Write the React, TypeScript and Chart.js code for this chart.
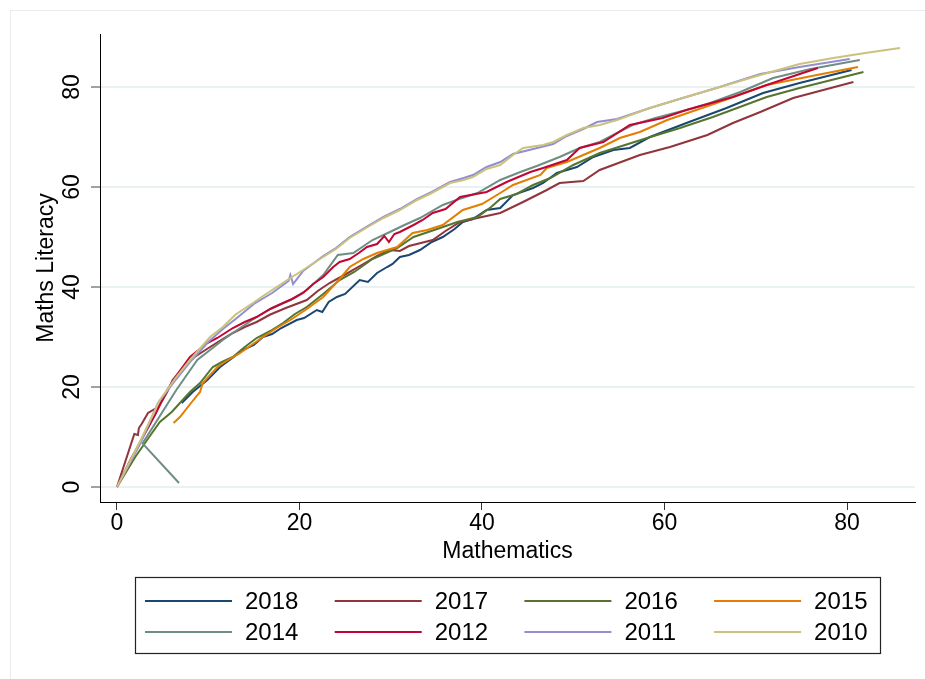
import React, { useEffect, useRef } from "react";
import { Chart, registerables } from "chart.js";

Chart.register(...registerables);

const FONT = '"Liberation Sans", Arial, Helvetica, sans-serif';

const SERIES_LABELS = ["2018", "2017", "2016", "2015", "2014", "2012", "2011", "2010"];
const SERIES_COLORS = ["#1a476f", "#90353b", "#55752f", "#e37e00", "#6e8e84", "#c10534", "#938dd2", "#cac27e"];
const X_TICKS = [0, 20, 40, 60, 80];
const Y_TICKS = [0, 20, 40, 60, 80];

const math2018 = [7.1, 8.3, 9.9, 11.3, 12.5, 13.8, 15.0, 16.0, 17.0, 18.0, 19.7, 20.5, 21.9, 22.5, 23.2, 24.1, 25.0, 26.6, 27.5, 28.5, 29.6, 30.2, 31.0, 32.0, 33.2, 34.5, 35.7, 37.0, 37.9, 39.0, 40.5, 42.0, 43.4, 45.6, 46.7, 48.2, 50.4, 52.2, 54.4, 56.2, 58.4, 62.4, 66.8, 70.8, 74.8, 80.5];
const lit2018 = [16.8, 19.0, 21.4, 24.0, 25.6, 27.4, 28.4, 30.0, 30.6, 31.8, 33.4, 33.8, 35.4, 35.0, 37.0, 38.0, 38.6, 41.4, 41.0, 42.8, 44.0, 44.6, 46.0, 46.4, 47.4, 49.0, 50.0, 51.6, 53.0, 53.6, 55.4, 55.8, 58.4, 59.8, 60.8, 62.8, 64.0, 66.0, 67.4, 67.8, 70.0, 72.8, 75.8, 78.8, 80.8, 83.4];

const math2017 = [0, 1.9, 2.3, 2.4, 2.7, 3.4, 4.5, 5.0, 5.5, 6.1, 7.5, 8.5, 10.2, 11.5, 12.7, 14.0, 15.3, 16.8, 18.5, 20.8, 22.0, 23.3, 25.0, 27.0, 28.5, 29.9, 31.0, 32.0, 34.6, 36.0, 37.6, 39.5, 42.0, 44.5, 47.1, 48.5, 51.1, 52.9, 57.3, 60.6, 64.7, 67.5, 70.5, 74.1, 80.7];
const lit2017 = [0, 10.6, 10.4, 11.8, 12.6, 14.8, 16.0, 17.4, 19.0, 21.4, 24.5, 26.0, 28.0, 29.5, 30.8, 32.0, 33.0, 34.5, 35.8, 37.4, 39.2, 40.8, 42.5, 44.6, 46.2, 47.4, 47.2, 48.2, 49.4, 51.2, 53.0, 53.8, 54.8, 57.0, 59.4, 60.8, 61.2, 63.4, 66.4, 68.0, 70.4, 72.8, 75.0, 77.8, 81.0];

const math2016 = [0, 2.0, 3.8, 4.7, 6.0, 6.7, 7.5, 8.0, 9.1, 10.5, 11.5, 12.7, 14.0, 15.3, 16.8, 18.2, 19.5, 20.8, 22.6, 24.4, 26.0, 28.0, 30.7, 32.5, 35.4, 37.3, 39.5, 41.0, 42.0, 43.8, 45.6, 47.5, 50.0, 52.9, 58.1, 61.7, 65.3, 71.2, 74.8, 81.8];
const lit2016 = [0, 6.0, 10.7, 13.0, 15.0, 16.4, 18.0, 19.0, 20.8, 24.0, 25.0, 26.0, 28.0, 29.8, 31.2, 32.8, 34.6, 36.0, 38.6, 41.4, 43.0, 45.6, 47.8, 50.0, 51.8, 53.0, 54.0, 56.0, 57.6, 58.6, 60.4, 61.8, 64.4, 66.8, 69.8, 71.8, 74.0, 78.0, 79.8, 83.0];

const math2015 = [6.2, 6.9, 8.2, 9.1, 9.4, 11.0, 12.0, 13.5, 16.0, 17.5, 19.0, 20.8, 22.6, 24.4, 25.5, 27.0, 28.5, 30.7, 32.4, 34.0, 35.7, 37.9, 40.0, 42.0, 43.4, 46.4, 47.1, 49.3, 52.9, 55.1, 57.3, 60.3, 65.7, 71.2, 76.7, 81.2];
const lit2015 = [12.8, 14.0, 17.0, 19.0, 20.8, 24.0, 25.2, 26.8, 30.0, 31.8, 33.4, 35.6, 38.0, 41.6, 44.0, 45.6, 46.8, 48.0, 50.8, 51.4, 52.4, 55.4, 56.6, 58.8, 60.4, 62.4, 63.8, 65.0, 67.8, 69.8, 71.0, 73.4, 76.8, 80.4, 82.4, 84.0];

const math2014 = [6.8, 2.8, 6.5, 8.8, 11.6, 13.5, 15.3, 17.0, 19.0, 20.8, 22.6, 24.2, 25.9, 28.0, 29.9, 31.5, 33.2, 35.7, 37.5, 39.5, 42.0, 44.2, 46.0, 48.5, 50.7, 52.9, 56.5, 59.0, 62.4, 65.0, 68.3, 71.9, 76.0, 81.4];
const lit2014 = [0.8, 8.7, 19.4, 25.4, 29.4, 31.8, 34.0, 35.8, 37.4, 39.4, 42.4, 46.4, 46.8, 49.4, 51.0, 52.4, 53.8, 56.4, 57.6, 58.8, 61.4, 63.0, 64.2, 66.0, 67.8, 69.0, 72.4, 73.8, 75.4, 76.8, 79.0, 81.8, 83.6, 85.4];

const math2012 = [0, 1.5, 3.0, 4.2, 5.5, 6.8, 8.0, 9.9, 11.0, 12.7, 14.0, 15.3, 16.8, 18.2, 19.2, 20.4, 21.5, 22.6, 23.7, 24.4, 25.5, 26.5, 27.4, 28.5, 29.3, 29.8, 30.4, 31.0, 32.5, 33.5, 34.6, 36.0, 37.6, 40.5, 42.7, 45.3, 46.7, 49.3, 50.7, 53.3, 56.2, 59.8, 62.4, 67.5, 71.2, 76.8];
const lit2012 = [0, 5.5, 10.5, 14.5, 19.4, 23.0, 26.0, 28.8, 29.8, 31.8, 33.0, 34.0, 35.6, 36.8, 37.6, 38.8, 40.6, 42.0, 44.0, 45.0, 45.6, 46.8, 48.0, 48.6, 50.2, 49.0, 50.6, 51.0, 52.4, 53.4, 54.8, 55.6, 58.0, 59.0, 61.0, 63.0, 63.8, 65.4, 67.8, 69.0, 72.4, 73.8, 75.4, 78.0, 80.4, 83.8];

const math2011 = [0, 2.5, 4.5, 6.5, 8.0, 10.0, 11.6, 13.0, 15.0, 17.0, 18.8, 19.0, 19.3, 20.4, 22.6, 24.0, 25.5, 27.3, 29.2, 31.0, 32.9, 34.5, 36.5, 38.0, 39.0, 40.5, 42.0, 43.4, 45.6, 47.8, 49.3, 51.1, 52.6, 54.8, 58.4, 62.0, 65.7, 70.5, 74.8, 80.3];
const lit2011 = [0, 8.5, 16.8, 21.6, 25.0, 29.0, 31.6, 33.6, 36.6, 38.8, 41.2, 42.4, 40.6, 43.2, 46.2, 47.8, 50.0, 52.0, 54.0, 55.6, 57.6, 59.0, 61.0, 61.8, 62.4, 64.0, 65.0, 66.6, 67.6, 68.6, 70.2, 71.6, 73.0, 73.6, 75.8, 77.8, 79.8, 82.6, 84.0, 85.6];

const math2010 = [0, 2.5, 4.7, 6.5, 8.0, 10.2, 11.6, 13.0, 14.9, 16.0, 17.5, 19.0, 20.4, 22.6, 24.0, 25.5, 27.3, 29.2, 31.0, 32.9, 34.5, 36.5, 38.0, 39.0, 40.5, 42.0, 43.4, 44.5, 46.7, 47.8, 49.3, 51.1, 52.9, 54.8, 58.4, 62.0, 65.7, 70.5, 74.8, 78.5, 82.0, 85.8];
const lit2010 = [0, 9.0, 17.4, 22.0, 25.4, 30.0, 32.0, 34.5, 36.8, 38.2, 40.0, 41.8, 43.4, 46.0, 47.6, 49.8, 51.8, 53.8, 55.4, 57.4, 58.8, 60.8, 61.4, 62.0, 63.6, 64.4, 66.4, 67.8, 68.4, 69.0, 70.4, 71.8, 72.4, 73.4, 75.8, 77.8, 79.8, 82.4, 84.6, 85.8, 86.8, 87.8];

const MATH = [math2018, math2017, math2016, math2015, math2014, math2012, math2011, math2010];
const LIT = [lit2018, lit2017, lit2016, lit2015, lit2014, lit2012, lit2011, lit2010];

const decorPlugin = {
  id: "decor",
  beforeDraw(chart: any) {
    const ctx = chart.ctx;
    ctx.save();
    ctx.fillStyle = "#ffffff";
    ctx.fillRect(0, 0, chart.width, chart.height);
    ctx.strokeStyle = "#e6eced";
    ctx.lineWidth = 1;
    ctx.strokeRect(10.5, 10.5, chart.width + 20, chart.height + 20);
    ctx.restore();
  },
  afterDraw(chart: any) {
    const ctx = chart.ctx;
    ctx.save();
    ctx.strokeStyle = "#222222";
    ctx.lineWidth = 1.2;
    ctx.strokeRect(135.5, 577.5, 745, 76);
    chart.data.datasets.forEach((ds: any, i: number) => {
      const col = i % 4;
      const row = Math.floor(i / 4);
      const x0 = 145 + col * 189.7;
      const y0 = 601 + row * 31;
      ctx.strokeStyle = ds.borderColor;
      ctx.lineWidth = 2;
      ctx.beginPath();
      ctx.moveTo(x0, y0);
      ctx.lineTo(x0 + 87, y0);
      ctx.stroke();
      ctx.fillStyle = "#000000";
      ctx.font = `24px ${FONT}`;
      ctx.textBaseline = "middle";
      ctx.textAlign = "left";
      ctx.fillText(ds.label, x0 + 100, y0 + 1);
    });
    ctx.restore();
  },
};

export default function App() {
  const ref = useRef<HTMLCanvasElement | null>(null);

  useEffect(() => {
    if (!ref.current) return;
    const datasets = SERIES_LABELS.map((label, i) => ({
      label,
      data: MATH[i].map((x, j) => ({ x, y: LIT[i][j] })),
      borderColor: SERIES_COLORS[i],
      backgroundColor: SERIES_COLORS[i],
      borderWidth: 2,
      pointRadius: 0,
      tension: 0,
      fill: false,
      order: SERIES_LABELS.length - 1 - i,
    }));

    const chart = new Chart(ref.current, {
      type: "line",
      data: { datasets },
      options: {
        animation: false,
        responsive: false,
        devicePixelRatio: 1,
        parsing: true,
        layout: { padding: { left: 0, right: 10, top: 34, bottom: 107 } },
        plugins: { legend: { display: false }, tooltip: { enabled: false } },
        scales: {
          x: {
            type: "linear",
            min: -1.86,
            max: 87.45,
            afterBuildTicks: (s: any) => {
              s.ticks = X_TICKS.map((v) => ({ value: v }));
            },
            afterFit: (s: any) => {
              s.height = 70;
            },
            grid: { drawOnChartArea: false, drawTicks: true, tickLength: 8, tickColor: "#333333", tickWidth: 1 },
            border: { display: true, color: "#000000", width: 1 },
            ticks: { color: "#000000", font: { family: FONT, size: 23 }, padding: 0, maxRotation: 0, minRotation: 0, autoSkip: false },
            title: { display: true, text: "Mathematics", color: "#000000", font: { family: FONT, size: 23 }, padding: { top: 0, bottom: 7 } },
          },
          y: {
            type: "linear",
            min: -3,
            max: 90.6,
            afterBuildTicks: (s: any) => {
              s.ticks = Y_TICKS.map((v) => ({ value: v }));
            },
            afterFit: (s: any) => {
              s.width = 100;
            },
            grid: { color: "#eaf1f3", lineWidth: 2, drawTicks: true, tickLength: 9, tickColor: "#444444", tickWidth: 1 },
            border: { display: true, color: "#000000", width: 1 },
            ticks: { color: "#000000", font: { family: FONT, size: 23 }, padding: 6, minRotation: 90, maxRotation: 90, crossAlign: "center", autoSkip: false },
            title: { display: true, text: "Maths Literacy", color: "#000000", font: { family: FONT, size: 23 }, padding: { top: 33, bottom: 0 } },
          },
        },
      },
      plugins: [decorPlugin],
    } as any);

    return () => chart.destroy();
  }, []);

  return (
    <div style={{ position: "absolute", left: 0, top: 0, width: 925, height: 679, background: "#fff" }}>
      <canvas ref={ref} width={925} height={679} style={{ display: "block", width: 925, height: 679 }} />
    </div>
  );
}
